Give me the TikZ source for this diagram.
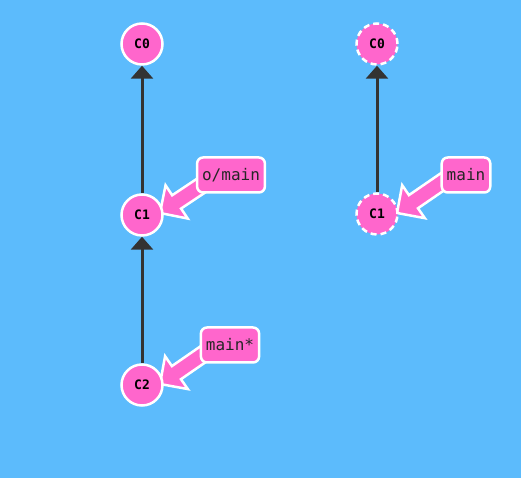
\documentclass[tikz,border=0pt]{standalone}
\usepackage{fontspec}
\setmonofont{DejaVu Sans Mono}
\usetikzlibrary{calc,arrows.meta}
\pgfdeclarelayer{back}
\pgfdeclarelayer{mid}
\pgfsetlayers{back,mid,main}
\definecolor{bgblue}{RGB}{92,187,252}
\definecolor{cpink}{RGB}{255,102,204}
\definecolor{edgegray}{RGB}{51,51,51}
\tikzset{
  commit/.style={circle,fill=cpink,draw=white,line width=2.5pt,minimum size=41pt,inner sep=0pt,
    font=\ttfamily\bfseries\fontsize{13pt}{13pt}\selectfont,text=black},
  ghost/.style={commit,dash pattern=on 6pt off 4pt},
  parentedge/.style={draw=edgegray,line width=3pt,-{Triangle[width=22pt,length=13pt]}},
  branchbox/.style={rectangle,rounded corners=6pt,fill=cpink,draw=white,line width=2.5pt,
    minimum height=35pt,inner xsep=5pt,font=\ttfamily\fontsize{16pt}{16pt}\selectfont,text=black!85},
  brancharrow/.style={fill=cpink,draw=white,line width=2.5pt,line join=miter}
}
\newcommand\branchptr[2]{%
  \draw[brancharrow] (#1)
    -- ($(#1)!28.3pt!45:(#2)$)
    -- ($(#1)!21.5pt!21.8:(#2)$)
    -- ($(#2)!8pt!-90:(#1)$)
    -- ($(#2)!8pt!90:(#1)$)
    -- ($(#1)!21.5pt!-21.8:(#2)$)
    -- ($(#1)!28.3pt!-45:(#2)$)
    -- cycle;}
\begin{document}
\begin{tikzpicture}[x=1pt,y=1pt]
\useasboundingbox (0,0) rectangle (521,478);
\begin{pgfonlayer}{back}
\fill[bgblue] (0,0) rectangle (521,478);
\end{pgfonlayer}
% left repo
\node[commit] (lc0) at (142,434) {C0};
\node[commit] (lc1) at (142,263) {C1};
\node[commit] (lc2) at (142,93) {C2};
\draw[parentedge] (lc1) -- (lc0);
\draw[parentedge] (lc2) -- (lc1);
% right repo
\node[ghost] (rc0) at (377,434) {C0};
\node[ghost] (rc1) at (377,264) {C1};
\draw[parentedge] (rc1) -- (rc0);
% branch labels
\node[branchbox] (om) at (231,303) {o/main};
\node[branchbox] (mstar) at (230,133) {main*};
\node[branchbox] (rm) at (466,303) {main};
\coordinate (t1) at ($(lc1)+(18,2)$);
\coordinate (t2) at ($(lc2)+(18,1)$);
\coordinate (t3) at ($(rc1)+(20,1)$);
\coordinate (s1) at ($(om)+(-2,8)$);
\coordinate (s2) at ($(mstar)+(-2,8)$);
\coordinate (s3) at ($(rm)+(-2,8)$);
\begin{pgfonlayer}{mid}
\branchptr{t1}{s1}
\branchptr{t2}{s2}
\branchptr{t3}{s3}
\end{pgfonlayer}
\end{tikzpicture}
\end{document}
